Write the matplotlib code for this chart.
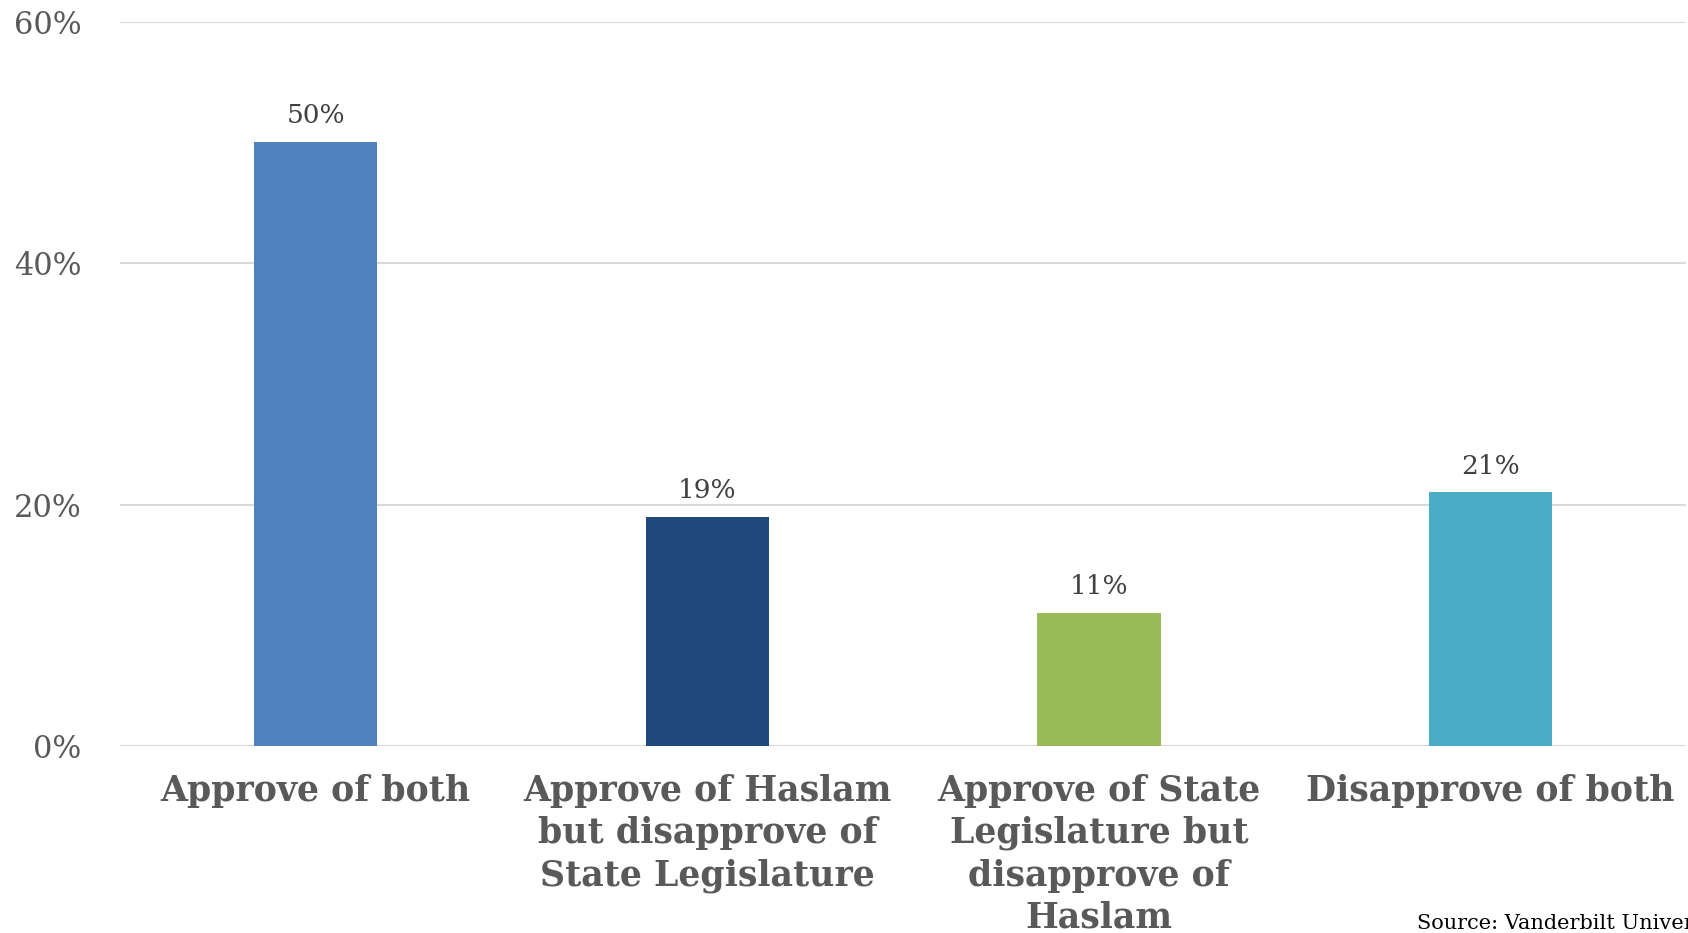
import matplotlib
matplotlib.use("Agg")
import matplotlib.pyplot as plt
from matplotlib.ticker import FuncFormatter

categories = ["Approve of both",
              "Approve of Haslam\nbut disapprove of\nState Legislature",
              "Approve of State\nLegislature but\ndisapprove of\nHaslam",
              "Disapprove of both"]
values = [50, 19, 11, 21]
bar_colors = ["#4F81BD", "#1F497D", "#9BBB59", "#4BACC6"]
yticks = [0, 20, 40, 60]
source = "Source: Vanderbilt University"

plt.rcParams['font.family'] = ['DejaVu Serif']

fig = plt.figure(figsize=(16.88, 9.33), dpi=100)
ax = fig.add_axes([0.0711, 0.2004, 0.9278, 0.7765])

x = list(range(len(values)))
bars = ax.bar(x, values, width=0.315, color=bar_colors, zorder=3)

for xi, v in zip(x, values):
    ax.annotate(f"{v}%", (xi, v), xytext=(0, 10), textcoords="offset points",
                ha="center", va="bottom", fontsize=19, color="#404040")

ax.set_xlim(-0.5, len(values) - 0.5)
ax.set_ylim(0, 60)
ax.set_yticks(yticks)
ax.yaxis.set_major_formatter(FuncFormatter(lambda v, p: f"{int(v)}%"))
ax.grid(axis="y", color="#d9d9d9", linewidth=1.5, zorder=0)
for s in ax.spines.values():
    s.set_visible(False)
ax.tick_params(axis="y", length=0, labelsize=22, labelcolor="#595959", pad=28)
ax.set_xticks(x)
ax.set_xticklabels(categories, fontsize=25, fontweight="bold", color="#595959",
                   linespacing=1.3)
ax.tick_params(axis="x", length=0, pad=20)

fig.text(1417 / 1688, 1 - 929 / 933, source, fontsize=15, color="#000000",
         ha="left", va="baseline")

fig.savefig("out.png", dpi=100)
